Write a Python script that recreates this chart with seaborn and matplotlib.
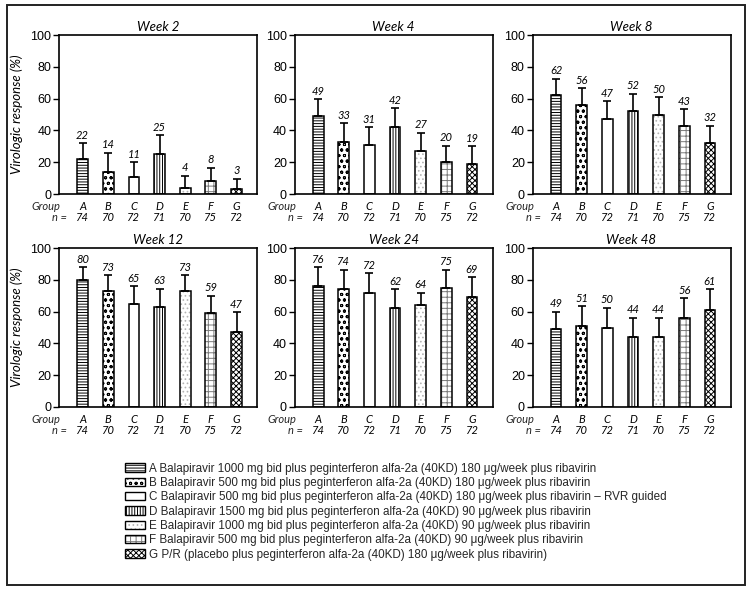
import numpy as np
import pandas as pd
import matplotlib
matplotlib.use("Agg")
import matplotlib.pyplot as plt
import seaborn as sns
from matplotlib.patches import Rectangle, Patch
from matplotlib.transforms import blended_transform_factory

# ---------------- data ----------------
weeks = ["Week 2", "Week 4", "Week 8", "Week 12", "Week 24", "Week 48"]
groups = ["A", "B", "C", "D", "E", "F", "G"]
n_patients = [74, 70, 72, 71, 70, 75, 72]

resp_w2 = [22, 14, 11, 25, 4, 8, 3]
resp_w4 = [49, 33, 31, 42, 27, 20, 19]
resp_w8 = [62, 56, 47, 52, 50, 43, 32]
resp_w12 = [80, 73, 65, 63, 73, 59, 47]
resp_w24 = [76, 74, 72, 62, 64, 75, 69]
resp_w48 = [49, 51, 50, 44, 44, 56, 61]

# upper end of the error bars
upper_w2 = [32, 26, 20, 37, 11.5, 16.5, 9.5]
upper_w4 = [59.5, 44.5, 42, 54, 38.5, 30.5, 30]
upper_w8 = [72.5, 66.5, 58.5, 63, 61, 53.5, 43]
upper_w12 = [88, 83, 76, 74.5, 83, 70, 59.5]
upper_w24 = [88, 86.5, 84, 74, 72, 86.5, 81.5]
upper_w48 = [60, 63.5, 62.5, 56, 56, 68.5, 74]

legend_labels = [
    "A Balapiravir 1000 mg bid plus peginterferon alfa-2a (40KD) 180 μg/week plus ribavirin",
    "B Balapiravir 500 mg bid plus peginterferon alfa-2a (40KD) 180 μg/week plus ribavirin",
    "C Balapiravir 500 mg bid plus peginterferon alfa-2a (40KD) 180 μg/week plus ribavirin – RVR guided",
    "D Balapiravir 1500 mg bid plus peginterferon alfa-2a (40KD) 90 μg/week plus ribavirin",
    "E Balapiravir 1000 mg bid plus peginterferon alfa-2a (40KD) 90 μg/week plus ribavirin",
    "F Balapiravir 500 mg bid plus peginterferon alfa-2a (40KD) 90 μg/week plus ribavirin",
    "G P/R (placebo plus peginterferon alfa-2a (40KD) 180 μg/week plus ribavirin)",
]

values = [resp_w2, resp_w4, resp_w8, resp_w12, resp_w24, resp_w48]
uppers = [upper_w2, upper_w4, upper_w8, upper_w12, upper_w24, upper_w48]

# ---------------- style ----------------
sns.set_theme(style="ticks")
plt.rcParams["font.family"] = ["Lato", "DejaVu Sans"]
plt.rcParams["hatch.linewidth"] = 0.7

hatches = ["------", "ooo", "", "||||||", "....", "+++", "xxxxxx"]
hatch_colors = ["black", "black", "black", "black", "#b4b4b4", "#7a7a7a", "black"]
tickfont = ["Liberation Sans", "DejaVu Sans"]

fig = plt.figure(figsize=(7.5, 5.93), dpi=100)

col_left = [0.0787, 0.3927, 0.7100]
row_bottom = [0.6728, 0.3137]
ax_w, ax_h = 0.264, 0.268

for k, (week, vals, ups) in enumerate(zip(weeks, values, uppers)):
    r, c = divmod(k, 3)
    ax = fig.add_axes([col_left[c], row_bottom[r], ax_w, ax_h])
    df = pd.DataFrame({"group": groups, "resp": vals})
    sns.barplot(data=df, x="group", y="resp", color="white", edgecolor="black",
                linewidth=1, width=0.42, errorbar=None, saturation=1, ax=ax)
    centers = []
    for p, h, hc in zip(list(ax.patches), hatches, hatch_colors):
        p.set_hatch(h)
        p.set_edgecolor(hc)
        p.set_linewidth(0)
        ax.add_patch(Rectangle(p.get_xy(), p.get_width(), p.get_height(),
                               fill=False, edgecolor="black", lw=1.1,
                               zorder=p.get_zorder() + 0.1))
        centers.append(p.get_x() + p.get_width() / 2)
    vals_a = np.array(vals, dtype=float)
    ups_a = np.array(ups, dtype=float)
    ax.errorbar(centers, vals_a, yerr=[np.zeros_like(vals_a), ups_a - vals_a],
                fmt="none", ecolor="black", elinewidth=1.2, capsize=3.2,
                capthick=1.2, zorder=4)
    for cx, v, u in zip(centers, vals, ups):
        ax.annotate(f"{v}", xy=(cx, u), xytext=(0, 1.8), textcoords="offset points",
                    ha="center", va="bottom", fontsize=8, fontstyle="italic",
                    color="black")

    ax.set_ylim(0, 100)
    ax.set_xlim(-0.92, 6.8)
    ax.set_yticks(range(0, 101, 20), labels=[str(t) for t in range(0, 101, 20)],
                  fontfamily=tickfont, fontsize=9)
    ax.set_xticks(centers, labels=[f"{g}\n{n}" for g, n in zip(groups, n_patients)],
                  fontstyle="italic", fontsize=8, linespacing=1.0)
    ax.tick_params(axis="x", length=0, pad=5, colors="black")
    ax.tick_params(axis="y", left=True, length=4, width=1, direction="out",
                   pad=1.5, colors="black")
    ax.set_xlabel("")
    if c == 0:
        ax.set_ylabel("Virologic response (%)", fontstyle="italic", fontsize=9.5,
                      labelpad=5, color="black")
    else:
        ax.set_ylabel("")
    ax.set_title(week, fontstyle="italic", fontsize=9.5, pad=3, color="black")
    for s in ax.spines.values():
        s.set_visible(True)
        s.set_linewidth(1.2)
        s.set_color("black")

    tr = blended_transform_factory(ax.transData, ax.transAxes)
    ax.annotate("Group", xy=(-0.86, 0), xycoords=tr, xytext=(0, -5.2),
                textcoords="offset points", ha="right", va="top",
                fontsize=8, fontstyle="italic", annotation_clip=False)
    ax.annotate("n =", xy=(-0.59, 0), xycoords=tr, xytext=(0, -13.2),
                textcoords="offset points", ha="right", va="top",
                fontsize=8, fontstyle="italic", annotation_clip=False)

# legend
handles = []
for h, hc in zip(hatches, hatch_colors):
    handles.append((Patch(facecolor="white", edgecolor=hc, hatch=h, lw=0),
                    Patch(facecolor="none", edgecolor="black", lw=1)))
fig.legend(handles, legend_labels, loc="upper left", bbox_to_anchor=(0.1667, 0.220),
           frameon=False, prop={"family": "Liberation Sans", "size": 8.4},
           handlelength=1.75, handleheight=0.75, handletextpad=0.3,
           labelspacing=0.2, borderpad=0, borderaxespad=0)

# outer frame
fig.add_artist(Rectangle((7 / 750, 1 - 585 / 593), (745 - 7) / 750, (585 - 5) / 593,
                         transform=fig.transFigure, fill=False, lw=1.4,
                         edgecolor="#222222"))

fig.savefig("out.png", dpi=100)
